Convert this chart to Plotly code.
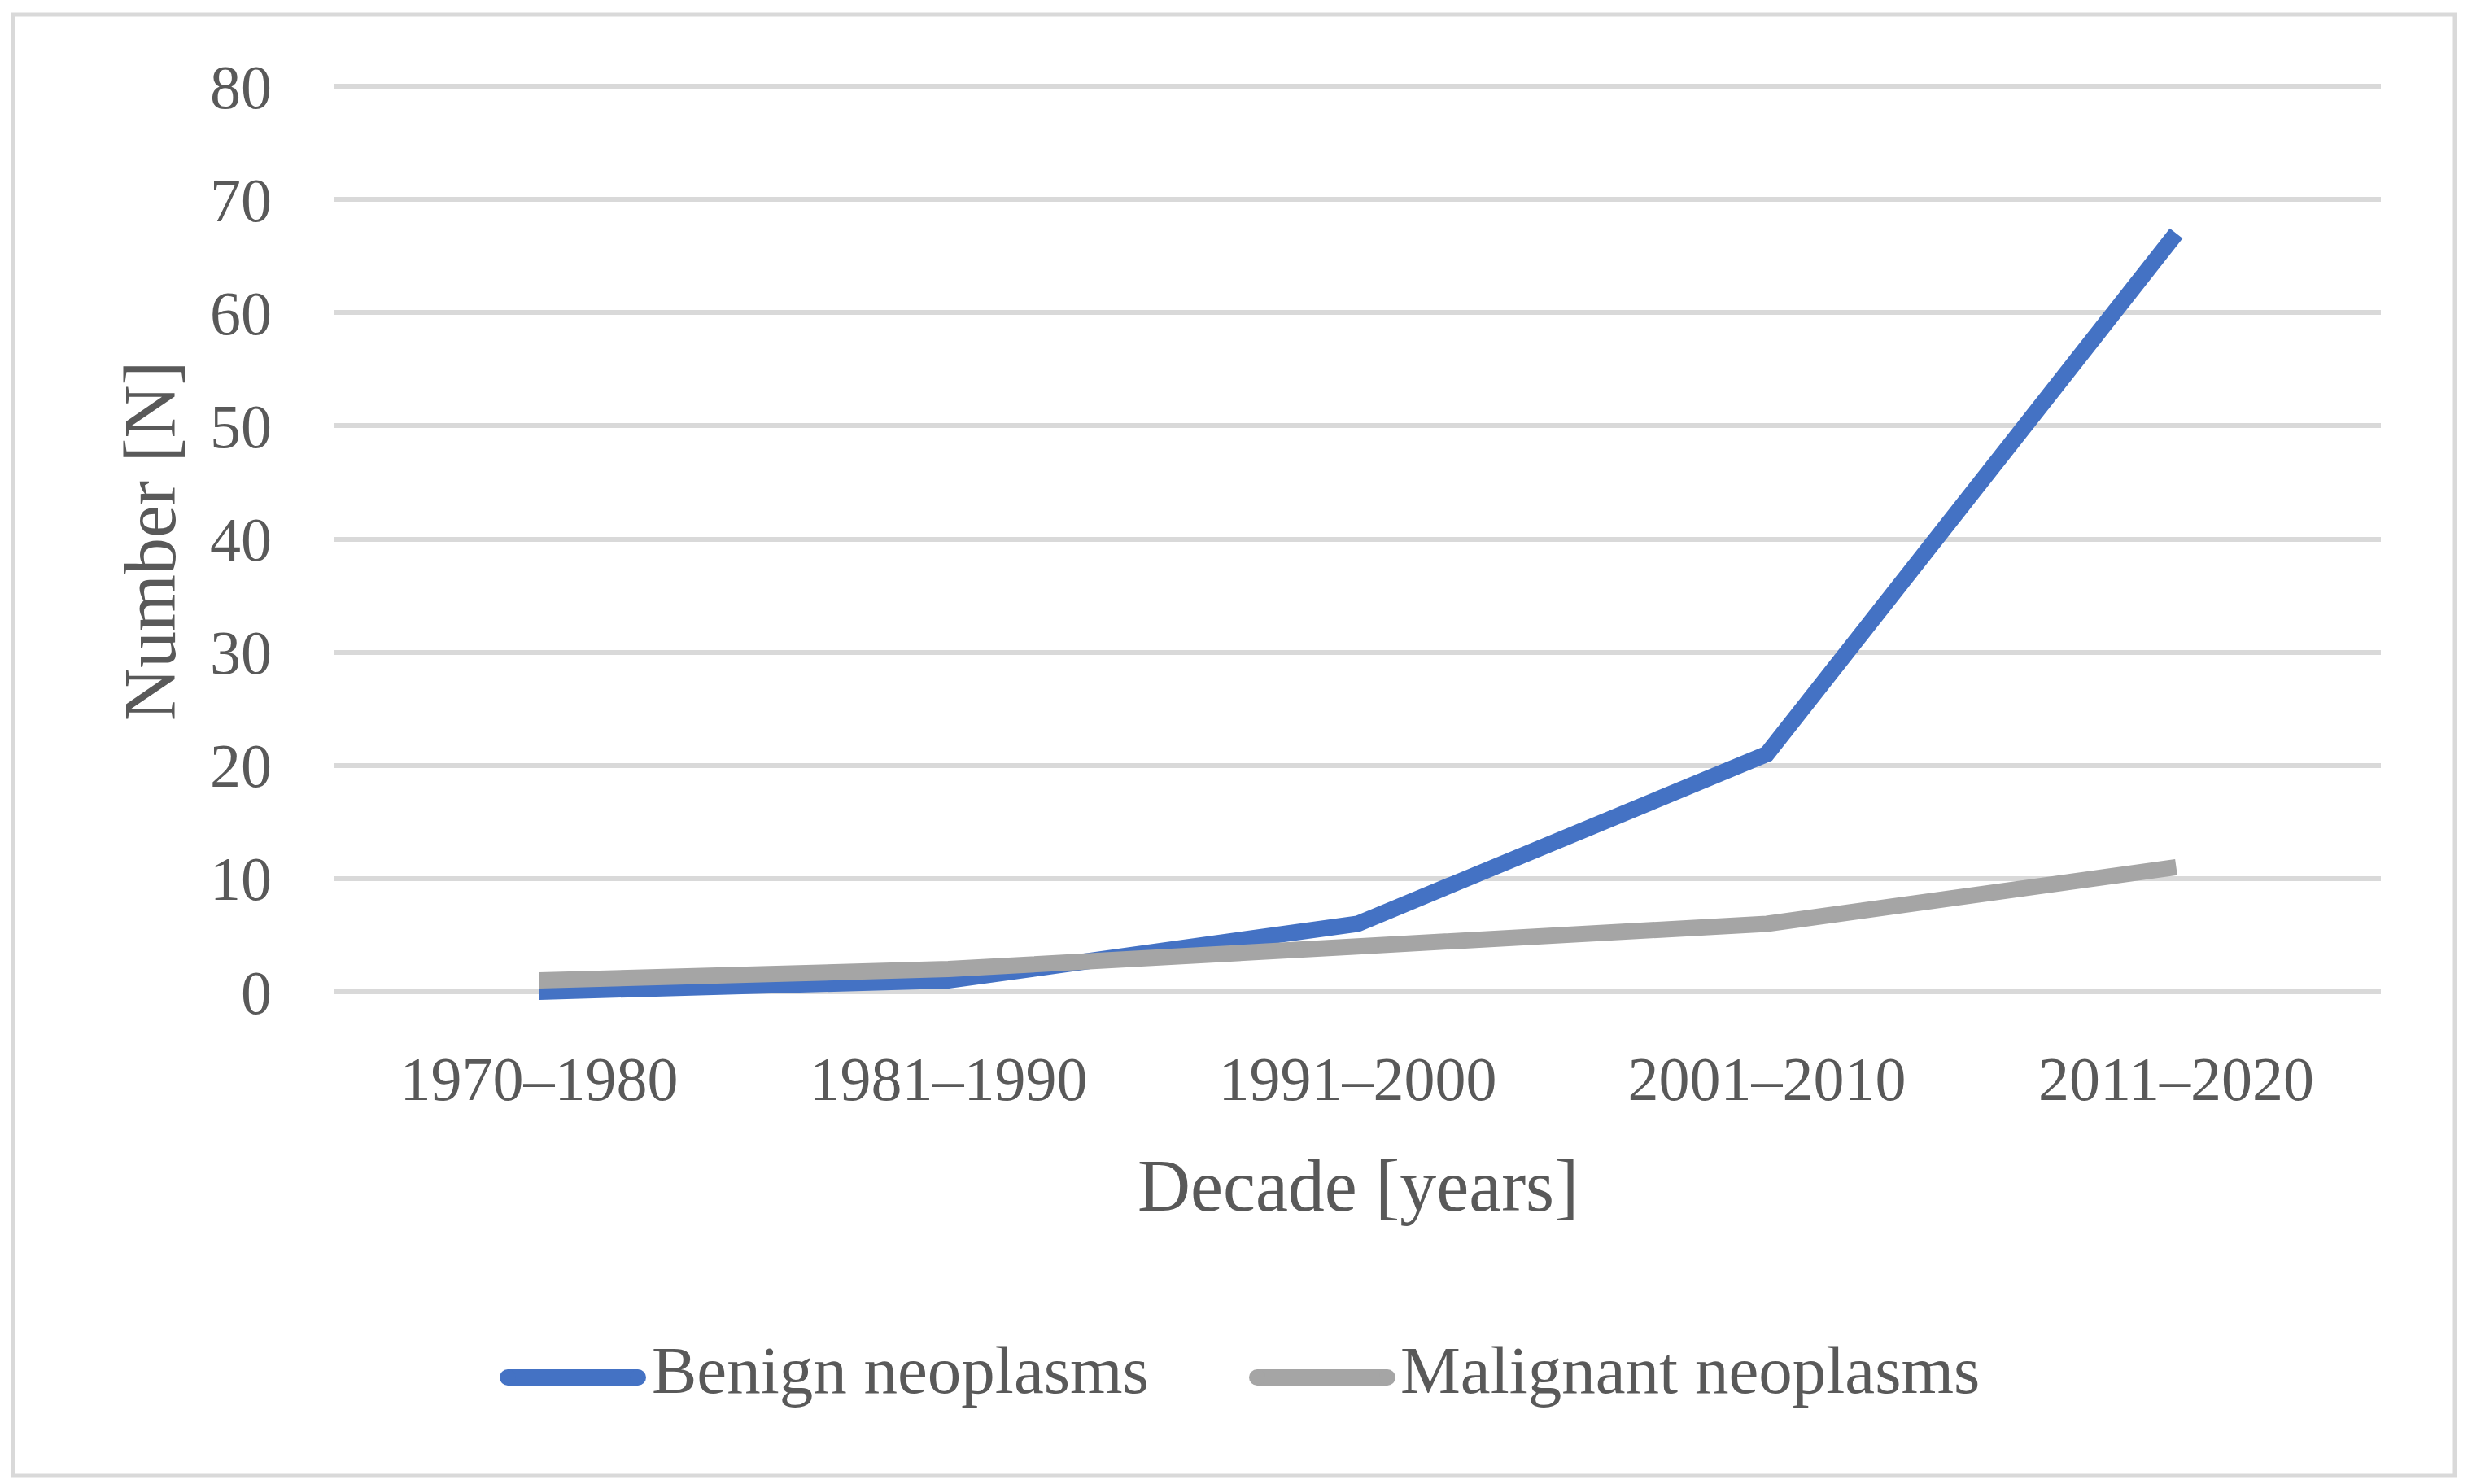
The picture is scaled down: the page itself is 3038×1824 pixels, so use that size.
import plotly.graph_objects as go

decades = ["1970–1980", "1981–1990", "1991–2000", "2001–2010", "2011–2020"]
benign = [0, 1, 6, 21, 67]
malignant = [1, 2, 4, 6, 11]
y_ticks = [0, 10, 20, 30, 40, 50, 60, 70, 80]
series_names = ["Benign neoplasms", "Malignant neoplasms"]
colors = ["#4472C4", "#A5A5A5"]

W, H = 3038, 1824
OFF = 8  # page body margin offset
# desired plot area in page pixels
PL, PR, PT, PB = 411, 2926, 88, 1237
L = PL - OFF
T = PT - OFF
R = W - (PR - OFF)
B = H - (PB - OFF)
pw = PR - PL
ph = PB - PT


def px_x(x):
    return (x - PL) / pw


def px_y(y):
    return (PB - y) / ph


FONT = "Liberation Serif"
TXT = "#595959"

fig = go.Figure()
for name, vals, col in zip(series_names, [benign, malignant], colors):
    fig.add_trace(go.Scatter(
        x=decades, y=vals, mode="lines", name=name,
        line=dict(color=col, width=20), showlegend=False,
    ))

fig.update_layout(
    width=W, height=H,
    margin=dict(l=L, r=R, t=T, b=B, pad=0),
    paper_bgcolor="white", plot_bgcolor="white",
    font=dict(family=FONT, color=TXT, size=76),
    xaxis=dict(
        type="category", range=[-0.5, 4.5], showgrid=False, zeroline=False,
        showline=False, ticks="", tickfont=dict(size=76, color=TXT),
        ticklabelstandoff=38,
    ),
    yaxis=dict(
        range=[-1.3, 81.3], tickvals=y_ticks, ticktext=[str(v) for v in y_ticks],
        showgrid=True, gridcolor="#D9D9D9", gridwidth=6, zeroline=False,
        showline=False, ticks="", tickfont=dict(size=76, color=TXT),
        ticklabelstandoff=76,
    ),
)

annotations = [
    dict(text="Decade [years]", x=0.5, y=px_y(1457), xref="paper", yref="paper",
         showarrow=False, xanchor="center", yanchor="middle",
         font=dict(family=FONT, size=90, color=TXT)),
    dict(text="Number [N]", x=px_x(184), y=px_y(665), xref="paper", yref="paper",
         showarrow=False, xanchor="center", yanchor="middle", textangle=-90,
         font=dict(family=FONT, size=90, color=TXT)),
]

shapes = [
    dict(type="rect", xref="paper", yref="paper",
         x0=px_x(16), x1=px_x(3017), y0=px_y(1814), y1=px_y(18),
         line=dict(color="#D9D9D9", width=5), fillcolor="rgba(0,0,0,0)", layer="below"),
]

legend_items = [(615, 793, 799), (1536, 1714, 1719)]
for (x0, x1, tx), name, col in zip(legend_items, series_names, colors):
    shapes.append(dict(type="line", xref="paper", yref="paper",
                       x0=px_x(x0 + 9), x1=px_x(x1 - 9), y0=px_y(1693), y1=px_y(1693),
                       line=dict(color=col, width=20)))
    for cx in (x0 + 9, x1 - 9):
        shapes.append(dict(type="circle", xref="paper", yref="paper",
                           x0=px_x(cx - 10), x1=px_x(cx + 10),
                           y0=px_y(1703), y1=px_y(1683),
                           line=dict(width=0), fillcolor=col))
    annotations.append(dict(text=name, x=px_x(tx), y=px_y(1684), xref="paper", yref="paper",
                            showarrow=False, xanchor="left", yanchor="middle",
                            font=dict(family=FONT, size=83, color=TXT)))

fig.update_layout(annotations=annotations, shapes=shapes)

fig.write_html("out.html")
